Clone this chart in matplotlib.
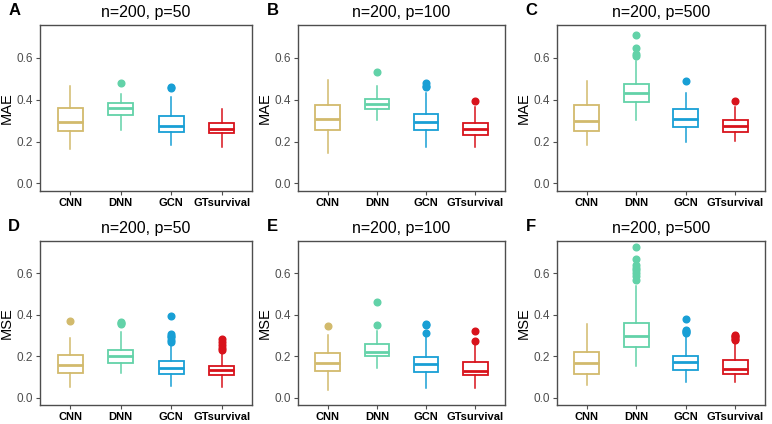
import matplotlib
matplotlib.use('Agg')
import matplotlib.pyplot as plt

plt.rcParams['font.family'] = ['Liberation Sans', 'DejaVu Sans']

methods = ['CNN', 'DNN', 'GCN', 'GTsurvival']
colors = ['#D2BA6C', '#62D2A8', '#189FD5', '#D8121B']

letters = ['A', 'B', 'C', 'D', 'E', 'F']
titles = ['n=200, p=50', 'n=200, p=100', 'n=200, p=500',
          'n=200, p=50', 'n=200, p=100', 'n=200, p=500']
ylabels = ['MAE', 'MAE', 'MAE', 'MSE', 'MSE', 'MSE']

# per panel, per method: [whislo, q1, med, q3, whishi]
stats_A = [[0.163, 0.250, 0.295, 0.362, 0.467],
           [0.253, 0.325, 0.362, 0.383, 0.425],
           [0.183, 0.245, 0.275, 0.320, 0.413],
           [0.175, 0.242, 0.262, 0.287, 0.353]]
stats_B = [[0.147, 0.255, 0.308, 0.372, 0.495],
           [0.305, 0.353, 0.380, 0.405, 0.467],
           [0.172, 0.253, 0.292, 0.330, 0.433],
           [0.172, 0.233, 0.262, 0.288, 0.367]]
stats_C = [[0.183, 0.250, 0.300, 0.375, 0.487],
           [0.303, 0.387, 0.433, 0.475, 0.583],
           [0.197, 0.270, 0.308, 0.353, 0.433],
           [0.203, 0.245, 0.272, 0.303, 0.367]]
stats_D = [[0.050, 0.117, 0.158, 0.207, 0.287],
           [0.117, 0.165, 0.203, 0.232, 0.317],
           [0.058, 0.115, 0.145, 0.178, 0.262],
           [0.053, 0.108, 0.133, 0.153, 0.220]]
stats_E = [[0.037, 0.128, 0.167, 0.217, 0.303],
           [0.145, 0.200, 0.220, 0.257, 0.323],
           [0.048, 0.125, 0.162, 0.198, 0.295],
           [0.048, 0.108, 0.128, 0.173, 0.257]]
stats_F = [[0.062, 0.115, 0.165, 0.220, 0.353],
           [0.153, 0.245, 0.295, 0.362, 0.537],
           [0.073, 0.132, 0.170, 0.203, 0.292],
           [0.073, 0.115, 0.140, 0.183, 0.270]]

fliers_A = [[], [0.478], [0.460, 0.455], []]
fliers_B = [[], [0.533], [0.478, 0.467, 0.458], [0.395]]
fliers_C = [[], [0.708, 0.645, 0.620, 0.608], [0.488], [0.395]]
fliers_D = [[0.368], [0.365, 0.358, 0.353], [0.395, 0.307, 0.298, 0.290, 0.280, 0.270],
            [0.282, 0.270, 0.253, 0.237, 0.228]]
fliers_E = [[0.345], [0.462, 0.350], [0.353, 0.348, 0.312], [0.323, 0.273]]
fliers_F = [[], [0.728, 0.667, 0.640, 0.628, 0.615, 0.600, 0.587, 0.570],
            [0.378, 0.328, 0.322, 0.315, 0.310],
            [0.303, 0.298, 0.292, 0.285, 0.278]]

all_stats = [stats_A, stats_B, stats_C, stats_D, stats_E, stats_F]
all_fliers = [fliers_A, fliers_B, fliers_C, fliers_D, fliers_E, fliers_F]

W, H = 772, 424
fig = plt.figure(figsize=(W / 100, H / 100), dpi=100)

lefts = [40, 298, 557]
rights = [252, 505, 765]
tops = [25, 241]
bottoms = [191, 405]

frame_col = '#4D4D4D'

for k in range(6):
    r, c = divmod(k, 3)
    ax = fig.add_axes([lefts[c] / W, 1 - bottoms[r] / H,
                       (rights[c] - lefts[c]) / W, (bottoms[r] - tops[r]) / H])
    for i in range(4):
        s = all_stats[k][i]
        d = dict(whislo=s[0], q1=s[1], med=s[2], q3=s[3], whishi=s[4],
                 fliers=all_fliers[k][i])
        col = colors[i]
        ax.bxp([d], positions=[i + 1], widths=0.5, showcaps=False,
               patch_artist=True,
               boxprops=dict(facecolor='white', edgecolor=col, linewidth=1.3),
               whiskerprops=dict(color=col, linewidth=1.1),
               medianprops=dict(color=col, linewidth=2.0),
               flierprops=dict(marker='o', markerfacecolor=col,
                               markeredgecolor=col, markersize=4.8))
    ax.set_xlim(0.4, 4.6)
    ax.set_ylim(-0.036, 0.756)
    ax.set_yticks([0.0, 0.2, 0.4, 0.6])
    ax.set_yticklabels(['0.0', '0.2', '0.4', '0.6'])
    ax.set_xticks([1, 2, 3, 4])
    ax.set_xticklabels(methods, fontweight='bold', fontsize=8, color='black')
    ax.tick_params(axis='y', labelsize=8.5, labelcolor='#4D4D4D', colors=frame_col,
                   length=3, width=0.8, pad=2)
    ax.tick_params(axis='x', colors=frame_col, labelcolor='black', length=3,
                   width=0.8, pad=2)
    for sp in ax.spines.values():
        sp.set_color(frame_col)
        sp.set_linewidth(1.0)
    ax.set_ylabel(ylabels[k], fontsize=10.5, labelpad=2)
    ax.set_title(titles[k], fontsize=11.5, pad=6)
    ax.text(-0.15, 1.04, letters[k], transform=ax.transAxes, fontsize=12,
            fontweight='bold', va='bottom', ha='left')

fig.savefig('out.png', dpi=100)
